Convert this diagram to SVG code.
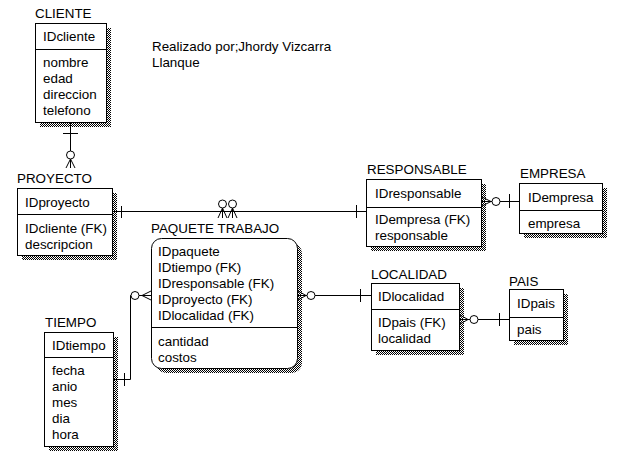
<svg xmlns="http://www.w3.org/2000/svg" width="632" height="464" viewBox="0 0 632 464">
<defs>
<pattern id="hatch" width="2" height="2" patternUnits="userSpaceOnUse">
<rect width="2" height="2" fill="#fff"/>
<rect width="1" height="1" fill="#000"/>
<rect x="1" y="1" width="1" height="1" fill="#000"/>
</pattern>
</defs>
<style>
text{font-family:"Liberation Sans",Arial,sans-serif;font-size:13.4px;fill:#000}
.box{fill:#fff;stroke:#000;stroke-width:1}
.sh{fill:url(#hatch);stroke:none}
.div{stroke:#000;stroke-width:1;fill:none}
.c{stroke:#000;stroke-width:1;fill:none}
.o{stroke:#000;stroke-width:1;fill:#fff}
</style>
<rect width="632" height="464" fill="#fff"/>
<text x="152" y="51">Realizado por;Jhordy Vizcarra</text>
<text x="152" y="67">Llanque</text>

<g id="cliente">
<text x="35" y="18">CLIENTE</text>
<rect class="sh" x="40" y="28" width="71" height="99"/>
<rect class="box" x="35.5" y="23.5" width="71" height="99"/>
<line class="div" x1="35.5" y1="49.5" x2="106.5" y2="49.5"/>
<text x="43" y="41">IDcliente</text>
<text x="43" y="67">nombre</text>
<text x="43" y="83">edad</text>
<text x="43" y="99">direccion</text>
<text x="43" y="115">telefono</text>
</g>

<g id="proyecto">
<text x="17" y="183">PROYECTO</text>
<rect class="sh" x="22" y="193" width="95" height="67"/>
<rect class="box" x="17.5" y="188.5" width="95" height="67"/>
<line class="div" x1="17.5" y1="214.5" x2="112.5" y2="214.5"/>
<text x="25" y="207">IDproyecto</text>
<text x="25" y="233">IDcliente (FK)</text>
<text x="25" y="249">descripcion</text>
</g>

<g id="responsable">
<text x="367" y="174">RESPONSABLE</text>
<rect class="sh" x="371" y="184" width="115" height="67"/>
<rect class="box" x="366.5" y="179.5" width="115" height="67"/>
<line class="div" x1="366.5" y1="207.5" x2="481.5" y2="207.5"/>
<text x="375" y="198">IDresponsable</text>
<text x="375" y="224">IDempresa (FK)</text>
<text x="375" y="240">responsable</text>
</g>

<g id="empresa">
<text x="520" y="178">EMPRESA</text>
<rect class="sh" x="524" y="188" width="83" height="50"/>
<rect class="box" x="519.5" y="183.5" width="83" height="50"/>
<line class="div" x1="519.5" y1="210.5" x2="602.5" y2="210.5"/>
<text x="528" y="202">IDempresa</text>
<text x="528" y="228">empresa</text>
</g>

<g id="paquete">
<text x="151" y="233">PAQUETE TRABAJO</text>
<rect class="sh" x="156" y="243" width="146" height="130" rx="10"/>
<rect class="box" x="151.5" y="238.5" width="146" height="130" rx="10"/>
<line class="div" x1="151.5" y1="327.5" x2="297.5" y2="327.5"/>
<text x="158" y="256">IDpaquete</text>
<text x="158" y="272">IDtiempo (FK)</text>
<text x="158" y="288">IDresponsable (FK)</text>
<text x="158" y="304">IDproyecto (FK)</text>
<text x="158" y="320">IDlocalidad (FK)</text>
<text x="158" y="346">cantidad</text>
<text x="158" y="362">costos</text>
</g>

<g id="localidad">
<text x="371" y="279">LOCALIDAD</text>
<rect class="sh" x="376" y="288" width="88" height="67"/>
<rect class="box" x="371.5" y="283.5" width="88" height="67"/>
<line class="div" x1="371.5" y1="309.5" x2="459.5" y2="309.5"/>
<text x="378" y="301">IDlocalidad</text>
<text x="378" y="327">IDpais (FK)</text>
<text x="378" y="343">localidad</text>
</g>

<g id="pais">
<text x="509" y="286">PAIS</text>
<rect class="sh" x="514" y="294" width="54" height="51"/>
<rect class="box" x="509.5" y="289.5" width="54" height="51"/>
<line class="div" x1="509.5" y1="317.5" x2="563.5" y2="317.5"/>
<text x="517" y="308">IDpais</text>
<text x="517" y="334">pais</text>
</g>

<g id="tiempo">
<text x="45" y="327">TIEMPO</text>
<rect class="sh" x="49" y="337" width="69" height="114"/>
<rect class="box" x="44.5" y="332.5" width="69" height="114"/>
<line class="div" x1="44.5" y1="357.5" x2="113.5" y2="357.5"/>
<text x="52" y="350">IDtiempo</text>
<text x="52" y="375">fecha</text>
<text x="52" y="391">anio</text>
<text x="52" y="407">mes</text>
<text x="52" y="423">dia</text>
<text x="52" y="439">hora</text>
</g>

<g id="connectors">
<!-- CLIENTE - PROYECTO -->
<line class="c" x1="70.5" y1="122.5" x2="70.5" y2="168"/>
<line class="c" x1="63" y1="133.5" x2="78" y2="133.5"/>
<circle class="o" cx="70.5" cy="155" r="4"/>
<path class="c" d="M70.5 159 L66 168 M70.5 159 L75 168"/>

<!-- PROYECTO - RESPONSABLE line with PAQUETE feet -->
<line class="c" x1="112.5" y1="211.5" x2="366.5" y2="211.5"/>
<line class="c" x1="121.5" y1="206" x2="121.5" y2="218"/>
<line class="c" x1="356.5" y1="205" x2="356.5" y2="218"/>
<circle class="o" cx="222.5" cy="204" r="4"/>
<circle class="o" cx="232.5" cy="204" r="4"/>
<path class="c" d="M222.5 208 L218 218 M222.5 208 L222.5 218 M222.5 208 L227 218"/>
<path class="c" d="M232.5 208 L228 218 M232.5 208 L232.5 218 M232.5 208 L237 218"/>

<!-- RESPONSABLE - EMPRESA -->
<line class="c" x1="481.5" y1="201.5" x2="519.5" y2="201.5"/>
<path class="c" d="M491 201.5 L482 197 M491 201.5 L482 206"/>
<circle class="o" cx="496" cy="201.5" r="4"/>
<line class="c" x1="509.5" y1="194" x2="509.5" y2="208"/>

<!-- PAQUETE - LOCALIDAD -->
<line class="c" x1="297.5" y1="295.5" x2="371.5" y2="295.5"/>
<path class="c" d="M306 295.5 L298 291 M306 295.5 L298 300"/>
<circle class="o" cx="311" cy="295.5" r="4"/>
<line class="c" x1="360.5" y1="289" x2="360.5" y2="302"/>

<!-- LOCALIDAD - PAIS -->
<line class="c" x1="459.5" y1="319.5" x2="509.5" y2="319.5"/>
<path class="c" d="M468 319.5 L460 315 M468 319.5 L460 324"/>
<circle class="o" cx="474" cy="319.5" r="4"/>
<line class="c" x1="499.5" y1="313" x2="499.5" y2="326"/>

<!-- TIEMPO - PAQUETE -->
<polyline class="c" points="113.5,379.5 130.5,379.5 130.5,295.5 151.5,295.5"/>
<line class="c" x1="124.5" y1="373" x2="124.5" y2="386"/>
<circle class="o" cx="135" cy="295.5" r="4"/>
<path class="c" d="M142 295.5 L151 291 M142 295.5 L151 300"/>
</g>
</svg>
